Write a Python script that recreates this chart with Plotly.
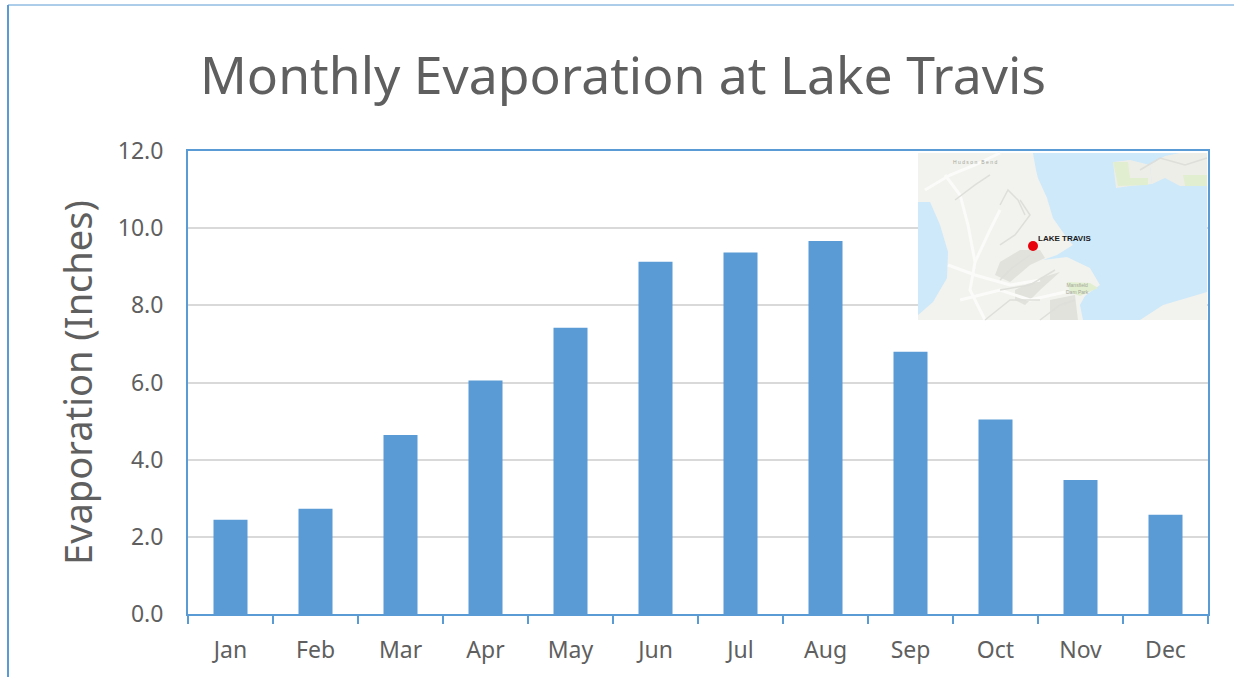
import plotly.graph_objects as go

# chart values
months = ["Jan", "Feb", "Mar", "Apr", "May", "Jun", "Jul", "Aug", "Sep", "Oct", "Nov", "Dec"]
evaporation = [2.44, 2.73, 4.64, 6.05, 7.42, 9.13, 9.37, 9.67, 6.80, 5.04, 3.47, 2.57]
y_ticks = [0, 2, 4, 6, 8, 10, 12]

W, H = 1234, 677
LEFT, RIGHT, TOP, BOTTOM = 188, 1208, 151, 614
BLUE = "#5b9bd5"
TEXT = "#5f5f5f"
FONT = "Noto Sans"

# inset map outlines, in pixels of the picture
big_water = [(1033, 153), (1036, 170), (1038, 178), (1047, 198), (1053, 218), (1067, 238), (1073, 245), (1057, 255),
             (1043, 260), (1067, 257), (1090, 268), (1100, 285), (1085, 296), (1080, 305), (1083, 320), (1140, 320),
             (1163, 305), (1207, 292), (1207, 153)]
left_water = [(918, 202), (930, 202), (940, 225), (948, 252), (947, 278), (933, 302), (918, 315)]
islands = [[(1113, 162), (1130, 160), (1150, 165), (1152, 184), (1130, 186), (1116, 188)],
           [(1150, 165), (1165, 156), (1180, 153), (1207, 153), (1207, 186), (1180, 186), (1165, 178), (1152, 184)]]
green_parks = [[(1113, 162), (1128, 162), (1130, 178), (1148, 178), (1148, 185), (1118, 186)],
               [(1183, 175), (1207, 175), (1207, 186), (1185, 186)],
               [(1067, 282), (1090, 283), (1098, 288), (1080, 296), (1070, 292)]]
shaded = [[(1000, 262), (1020, 250), (1040, 250), (1045, 258), (1030, 265), (1010, 282), (995, 275)],
          [(1015, 290), (1040, 278), (1060, 272), (1040, 290), (1025, 305), (1015, 300)],
          [(1050, 300), (1075, 295), (1078, 320), (1050, 320)]]
white_roads = [[(945, 175), (960, 195), (968, 225), (975, 262), (970, 290), (985, 320)],
               [(925, 190), (950, 175), (975, 165), (1000, 153)],
               [(948, 265), (975, 275), (1010, 285), (1040, 280)],
               [(1000, 210), (990, 230), (975, 262)],
               [(960, 300), (1000, 290), (1030, 300), (1065, 292)]]
ridges = [[(1000, 205), (1008, 190), (1018, 200), (1025, 215)],
          [(1020, 200), (1030, 215), (1015, 235), (1000, 245)],
          [(1030, 255), (1012, 268), (1000, 280)],
          [(1000, 290), (1030, 285), (1055, 270)],
          [(985, 320), (1010, 300), (1040, 300)],
          [(1040, 320), (1060, 305), (1075, 300)],
          [(955, 200), (975, 185), (990, 175)],
          [(1140, 170), (1160, 158), (1185, 165), (1207, 158)]]


def px(x):
    return (x - LEFT) / (RIGHT - LEFT)


def py(y):
    return (BOTTOM - y) / (BOTTOM - TOP)


def path(points, close=True):
    s = "M " + " L ".join(f"{px(x):.4f},{py(y):.4f}" for x, y in points)
    return s + (" Z" if close else "")


def map_shape(points, fill=None, line=None, width=0, close=True):
    return dict(type="path", xref="paper", yref="paper", path=path(points, close), layer="above",
                fillcolor=fill if fill else "rgba(0,0,0,0)",
                line=dict(color=line if line else "rgba(0,0,0,0)", width=width))


def map_label(text, x, y, size=5, color="#a3a89a", bold=False):
    return dict(text=f"<b>{text}</b>" if bold else text, xref="paper", yref="paper", x=px(x), y=py(y),
                xanchor="center", yanchor="middle", showarrow=False, borderpad=0,
                font=dict(family="Liberation Sans", size=size, color=color))


shapes = [
    # outer slide frame
    dict(type="line", xref="paper", yref="paper", x0=px(8), x1=px(8), y0=py(5), y1=py(677),
         line=dict(color=BLUE, width=2)),
    dict(type="line", xref="paper", yref="paper", x0=px(8), x1=px(1234), y0=py(5), y1=py(5),
         line=dict(color=BLUE, width=1)),
    # map background
    dict(type="rect", xref="paper", yref="paper", x0=px(918), x1=px(1207), y0=py(320), y1=py(153),
         layer="above", fillcolor="#f2f2ee", line=dict(width=0)),
    map_shape(big_water, fill="#cde9fa"),
    map_shape(left_water, fill="#cde9fa"),
]
for s in shaded:
    shapes.append(map_shape(s, fill="#e2e2dc"))
for i in islands:
    shapes.append(map_shape(i, fill="#eeeee8"))
for g in green_parks:
    shapes.append(map_shape(g, fill="#e2eed0"))
for r in white_roads:
    shapes.append(map_shape(r, line="#fbfbfa", width=3, close=False))
for r in ridges:
    shapes.append(map_shape(r, line="#dededa", width=1.5, close=False))
# red location dot
shapes.append(dict(type="circle", xref="paper", yref="paper", x0=px(1028), x1=px(1038), y0=py(251), y1=py(241),
                   layer="above", fillcolor="#e8000b", line=dict(width=0)))

fig = go.Figure(go.Bar(x=months, y=evaporation, marker=dict(color=BLUE, line=dict(width=0)), width=0.4))

fig.update_layout(
    width=W, height=H, autosize=False,
    margin=dict(l=LEFT, r=W - RIGHT, t=TOP, b=H - BOTTOM),
    paper_bgcolor="white", plot_bgcolor="white",
    showlegend=False,
    font=dict(family=FONT, color=TEXT),
    title=dict(text="Monthly Evaporation at Lake Travis", font=dict(size=51.7, color=TEXT, family=FONT),
               x=623 / W, xanchor="center", y=1 - 76 / H, yanchor="middle"),
    shapes=shapes,
    annotations=[
        map_label("LAKE TRAVIS", 1064, 238, size=8, color="#1a1a1a", bold=True),
        map_label("H u d s o n &nbsp; B e n d", 975, 162),
        map_label("Mansfield<br>Dam Park", 1077, 288),
    ],
)
fig.update_xaxes(
    type="category", tickson="boundaries", ticks="outside", ticklen=8, tickwidth=1.5, tickcolor=BLUE,
    showline=True, linecolor=BLUE, linewidth=2, mirror=True, showgrid=False,
    tickfont=dict(size=23, color=TEXT), range=[-0.5, 11.5], ticklabelstandoff=14,
)
fig.update_yaxes(
    range=[0, 12], tickvals=y_ticks, tickformat=".1f", ticks="", showline=True, linecolor=BLUE, linewidth=2,
    mirror=True, gridcolor="#d9d9d9", gridwidth=1.5, zeroline=False, tickfont=dict(size=23, color=TEXT),
    ticklabelstandoff=18,
    title=dict(text="Evaporation (Inches)", font=dict(size=38, color=TEXT), standoff=13),
)

fig.write_html("out.html", config=dict(displayModeBar=False),
               post_script="document.body.style.margin='0';document.body.style.overflow='hidden';")
